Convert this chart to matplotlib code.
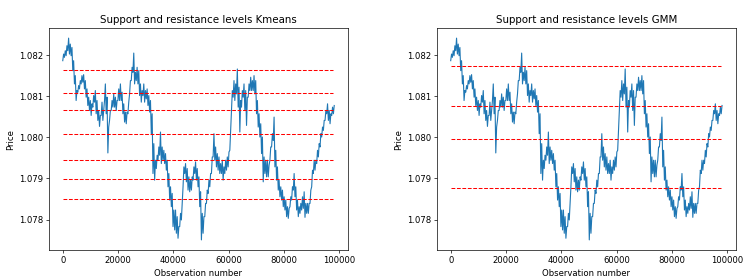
import numpy as np
import matplotlib.pyplot as plt

# observation numbers of the samples (one every ~600 obs)
obs = np.arange(0, 97900, 604)

# price envelope per sample: upper and lower edge of the noisy line
price_high = [
    1.082024, 1.082105, 1.082226, 1.082411, 1.082266, 1.082185, 1.081863, 1.081500,
    1.081137, 1.081258, 1.081379, 1.081500, 1.081524, 1.081379, 1.081177, 1.080976,
    1.080895, 1.080815, 1.081016, 1.081137, 1.080895, 1.080653, 1.080532, 1.080855,
    1.080653, 1.081298, 1.080976, 1.080250, 1.080653, 1.080895, 1.081056, 1.080976,
    1.080895, 1.081177, 1.081298, 1.081097, 1.080815, 1.080613, 1.080613, 1.080855,
    1.081379, 1.081702, 1.082048, 1.081581, 1.081702, 1.081621, 1.081298, 1.081137,
    1.081298, 1.081137, 1.081177, 1.081016, 1.080895, 1.080573, 1.079847, 1.079444,
    1.079565, 1.079766, 1.080129, 1.079766, 1.079685, 1.079605, 1.079444, 1.079121,
    1.078798, 1.078637, 1.078234, 1.078234, 1.078073, 1.077831, 1.078153, 1.078395,
    1.079282, 1.079363, 1.079242, 1.079040, 1.078960, 1.079040, 1.079282, 1.079403,
    1.079242, 1.079040, 1.078677, 1.078153, 1.078073, 1.078395, 1.078718, 1.078960,
    1.079121, 1.079524, 1.080089, 1.079766, 1.079605, 1.079524, 1.079363, 1.079444,
    1.079282, 1.079444, 1.079524, 1.079645, 1.080169, 1.081137, 1.081379, 1.081298,
    1.081661, 1.081218, 1.080895, 1.081137, 1.081298, 1.081137, 1.080976, 1.081298,
    1.081460, 1.081379, 1.081500, 1.081379, 1.080895, 1.080573, 1.080331, 1.080008,
    1.079524, 1.079444, 1.079444, 1.079323, 1.079766, 1.080089, 1.080492, 1.079685,
    1.079282, 1.078960, 1.078798, 1.078718, 1.078556, 1.078476, 1.078315, 1.078274,
    1.078556, 1.078798, 1.079121, 1.078798, 1.078476, 1.078315, 1.078395, 1.078556,
    1.078677, 1.078395, 1.078395, 1.078395, 1.078718, 1.079202, 1.079444, 1.079444,
    1.079685, 1.079847, 1.080089, 1.080250, 1.080411, 1.080653, 1.080815, 1.080653,
    1.080573, 1.080734, 1.080774,
]
price_low = [
    1.081863, 1.081944, 1.081984, 1.082105, 1.082024, 1.081984, 1.081621, 1.081298,
    1.080895, 1.081097, 1.081177, 1.081298, 1.081339, 1.081177, 1.080976, 1.080774,
    1.080653, 1.080532, 1.080734, 1.080855, 1.080573, 1.080411, 1.080266, 1.080532,
    1.080411, 1.080895, 1.080573, 1.079621, 1.080411, 1.080653, 1.080734, 1.080734,
    1.080653, 1.080895, 1.080895, 1.080895, 1.080573, 1.080371, 1.080331, 1.080573,
    1.081056, 1.081379, 1.081581, 1.081298, 1.081379, 1.081298, 1.081016, 1.080855,
    1.081016, 1.080855, 1.080935, 1.080774, 1.080613, 1.080089, 1.079121, 1.078960,
    1.079242, 1.079444, 1.079565, 1.079363, 1.079444, 1.079363, 1.079202, 1.078798,
    1.078476, 1.078315, 1.077831, 1.077750, 1.077669, 1.077548, 1.077831, 1.077992,
    1.078798, 1.079121, 1.078919, 1.078718, 1.078677, 1.078718, 1.078960, 1.079121,
    1.078960, 1.078798, 1.078315, 1.077508, 1.077669, 1.078073, 1.078395, 1.078637,
    1.078798, 1.079121, 1.079524, 1.079444, 1.079282, 1.079202, 1.079121, 1.079121,
    1.078960, 1.079121, 1.079202, 1.079282, 1.079685, 1.080653, 1.080976, 1.080895,
    1.081056, 1.080734, 1.080129, 1.080734, 1.080976, 1.080653, 1.080290, 1.080976,
    1.081137, 1.081137, 1.081137, 1.081056, 1.080573, 1.080250, 1.080008, 1.079605,
    1.078919, 1.079121, 1.079040, 1.079040, 1.079444, 1.079766, 1.079927, 1.079282,
    1.078960, 1.078718, 1.078556, 1.078476, 1.078315, 1.078234, 1.078073, 1.078032,
    1.078315, 1.078476, 1.078718, 1.078556, 1.078234, 1.078073, 1.078153, 1.078234,
    1.078274, 1.078056, 1.078153, 1.078153, 1.078395, 1.078798, 1.079121, 1.079202,
    1.079363, 1.079524, 1.079766, 1.080008, 1.080169, 1.080411, 1.080573, 1.080411,
    1.080331, 1.080532, 1.080573,
]

# support / resistance levels (cluster centres)
levels_kmeans = [1.081645, 1.081081, 1.080661, 1.080073, 1.079460, 1.078976, 1.078500]
levels_gmm = [1.081726, 1.080766, 1.079960, 1.078774]

# zigzag between the two edges so the line looks like the noisy original
x = np.column_stack([obs, obs + 302]).ravel()
y = np.column_stack([price_low, price_high]).ravel()
n_obs = obs[-1]

dpi = 61.6
fig = plt.figure(figsize=(753.3 / dpi, 280.3 / dpi), dpi=dpi)
ax1 = fig.add_axes([0.0653, 0.1071, 0.3964, 0.7918])
ax2 = fig.add_axes([0.5803, 0.1071, 0.3962, 0.7918])

for ax, levels, name in [(ax1, levels_kmeans, 'Kmeans'), (ax2, levels_gmm, 'GMM')]:
    ax.plot(x, y, color='#1f77b4', linewidth=1.3)
    ax.hlines(levels, 0, n_obs, colors='red', linestyles='--', linewidth=1.2)
    ax.set_title('Support and resistance levels ' + name)
    ax.set_xlabel('Observation number')
    ax.set_ylabel('Price')
    ax.ticklabel_format(axis='y', useOffset=False)

fig.savefig('out.png', dpi=dpi)
